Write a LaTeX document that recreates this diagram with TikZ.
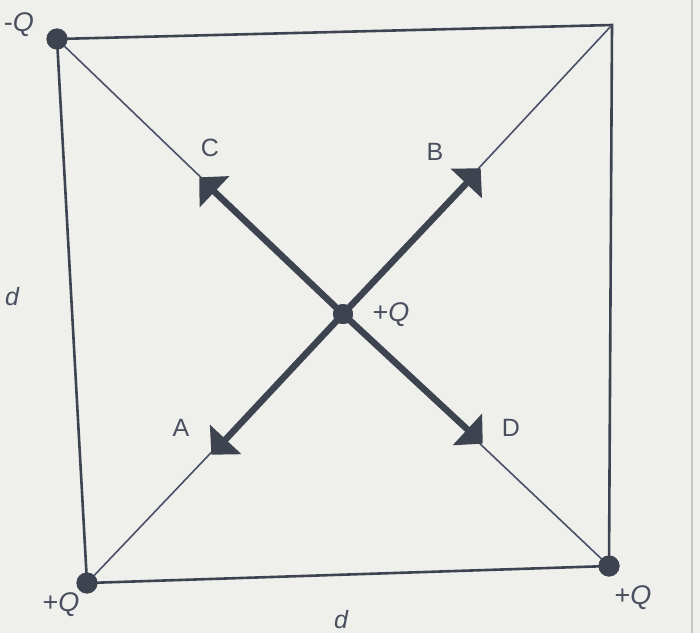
\documentclass[tikz,border=0pt]{standalone}
\usepackage{fontspec}
\setmainfont{Liberation Sans}
\usetikzlibrary{arrows.meta}
\definecolor{ink}{HTML}{3E4350}
\definecolor{thinink}{HTML}{4A5066}
\definecolor{bg}{HTML}{EFEFEC}
\definecolor{txt}{HTML}{4A4F5E}
\tikzset{
  side/.style={draw=ink, line width=2.6pt},
  thin/.style={draw=thinink, line width=1.6pt},
  thick/.style={draw=ink, line width=6.5pt, -{Triangle[length=21pt,width=42pt]}, shorten >=-1pt},
  charge/.style={circle, fill=ink, inner sep=0pt, minimum size=21pt},
  lbl/.style={text=txt, font=\fontsize{25}{28}\selectfont, inner sep=0pt},
  qlbl/.style={text=txt, font=\fontsize{27}{30}\selectfont, inner sep=0pt},
  dlbl/.style={text=txt, font=\fontsize{25}{28}\selectfont\itshape, inner sep=0pt},
}
\begin{document}
\begin{tikzpicture}[x=1pt,y=-1pt]
\useasboundingbox (0,0) rectangle (700,633);
\fill[bg] (0,0) rectangle (700,633);
\draw[gray!45, line width=1.2pt] (692,0) -- (692,633);
% corners
\node[charge] (tl) at (57,39) {};
\coordinate (tr) at (612,25);
\node[charge] (bl) at (87,583) {};
\node[charge] (br) at (609,566) {};
\node[charge, minimum size=20pt] (o) at (343,314) {};
% arrow tips
\coordinate (c) at (200,178);
\coordinate (b) at (480,169);
\coordinate (a) at (212,454);
\coordinate (dd) at (482,443);
% square
\draw[side] (tl.center) -- (tr) -- (br.center) -- (bl.center) -- cycle;
% thin diagonals
\draw[thin] (tl.center) -- (o.center) -- (br.center);
\draw[thin] (tr) -- (o.center) -- (bl.center);
% thick arrows
\draw[thick] (o.center) -- (c);
\draw[thick] (o.center) -- (b);
\draw[thick] (o.center) -- (a);
\draw[thick] (o.center) -- (dd);
% redraw dots on top
\node[charge] at (tl) {};
\node[charge] at (bl) {};
\node[charge] at (br) {};
\node[charge, minimum size=20pt] at (o) {};
% labels
\node[qlbl, anchor=east] (lq1) at (34,25) {-\itshape Q};
\node[qlbl] (lq2) at (391,315) {+\itshape Q};
\node[qlbl] (lq3) at (61,605) {+\itshape Q};
\node[qlbl] (lq4) at (633,598) {+\itshape Q};
\node[lbl] (lc) at (210,148) {C};
\node[lbl] (lb) at (435,152) {B};
\node[lbl] (la) at (181,428) {A};
\node[lbl] (ld) at (511,428) {D};
\node[dlbl] (d1) at (12,297) {d};
\node[dlbl] (d2) at (341,620) {d};
\end{tikzpicture}
\end{document}
